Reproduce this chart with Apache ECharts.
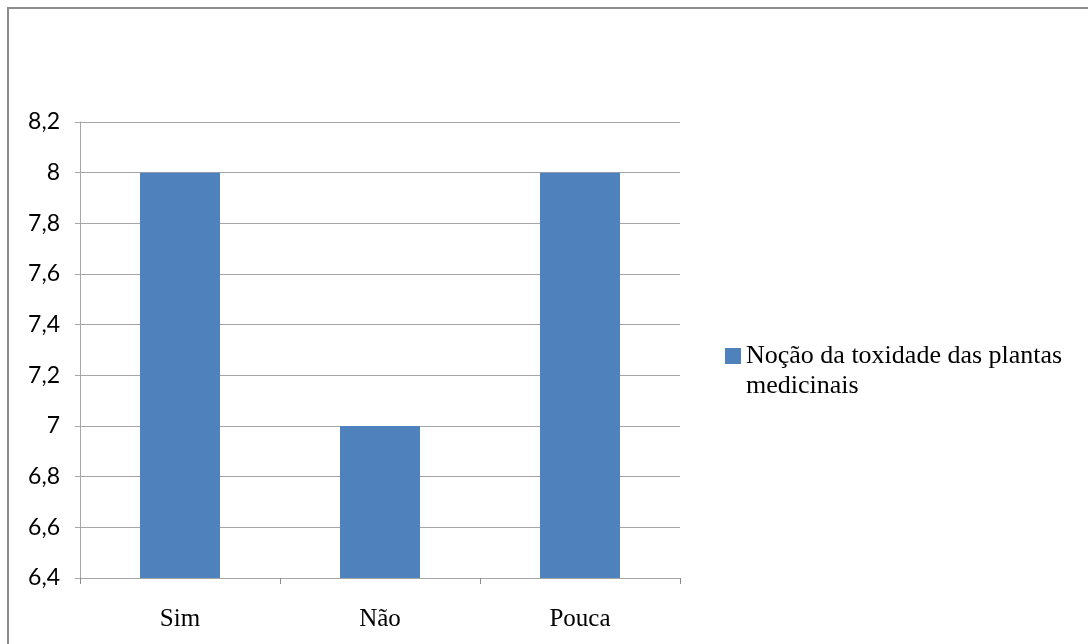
<!DOCTYPE html>
<html>
<head>
<meta charset="utf-8">
<script src="https://cdn.jsdelivr.net/npm/echarts@6/dist/echarts.min.js"></script>
<style>
  html, body { margin: 0; padding: 0; background: #fff; }
  #chart { width: 1088px; height: 644px; }
</style>
</head>
<body>
<div id="chart"></div>
<script>
// Answers to the question about plant toxicity
const categories = ['Sim', 'Não', 'Pouca'];
const seriesName = 'Noção da toxidade das plantas medicinais';
const legendLines = ['Noção da toxidade das plantas', 'medicinais'];
const values = [8, 7, 8];
const yMin = 6.4, yMax = 8.2, yStep = 0.2;

const serif = '"Liberation Serif", "DejaVu Serif", serif';

const chart = echarts.init(document.getElementById('chart'));
chart.setOption({
  animation: false,
  backgroundColor: '#ffffff',
  graphic: [{
    type: 'rect',
    shape: { x: 8, y: 8, width: 1200, height: 800 },
    style: { fill: 'none', stroke: '#8c8c8c', lineWidth: 2 },
    silent: true
  }],
  grid: { left: 80, right: 408, top: 122, bottom: 66 },
  legend: {
    show: true,
    left: 720,
    top: 306,
    orient: 'vertical',
    icon: 'rect',
    itemWidth: 16,
    itemHeight: 16,
    // leading blank line keeps the swatch level with the first text line
    formatter: () => '\n' + legendLines.join('\n'),
    textStyle: {
      fontFamily: serif,
      fontSize: 26,
      color: '#000',
      lineHeight: 30
    },
    data: [seriesName]
  },
  xAxis: {
    type: 'category',
    data: categories,
    axisLine: { show: true, lineStyle: { color: '#a6a6a6', width: 1 } },
    axisTick: { show: true, length: 6, lineStyle: { color: '#8c8c8c' } },
    axisLabel: {
      margin: 29,
      fontFamily: serif,
      fontSize: 25,
      color: '#000'
    }
  },
  yAxis: {
    type: 'value',
    min: yMin,
    max: yMax,
    interval: yStep,
    axisLine: { show: true, lineStyle: { color: '#a6a6a6', width: 1 } },
    axisTick: { show: true, length: 5, lineStyle: { color: '#a6a6a6' } },
    splitLine: { show: true, lineStyle: { color: '#a6a6a6', width: 1 } },
    axisLabel: {
      margin: 20,
      fontFamily: 'Lato, "Open Sans", sans-serif',
      fontSize: 23,
      color: '#000',
      formatter: v => String(Math.round(v * 10) / 10).replace('.', ',')
    }
  },
  series: [{
    name: seriesName,
    type: 'bar',
    data: values,
    barWidth: '40%',
    itemStyle: { color: '#4f81bd' }
  }]
});
</script>
</body>
</html>
